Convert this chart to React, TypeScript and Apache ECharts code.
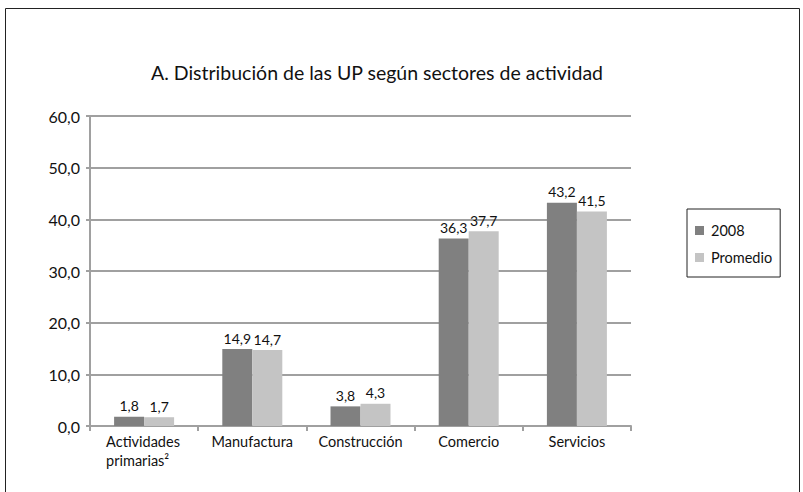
import React, { useEffect, useRef } from "react";
import * as echarts from "echarts";

const categories = ["Actividades\nprimarias²", "Manufactura", "Construcción", "Comercio", "Servicios"];
const series2008 = [1.8, 14.9, 3.8, 36.3, 43.2];
const seriesPromedio = [1.7, 14.7, 4.3, 37.7, 41.5];
const seriesNames = ["2008", "Promedio"];
const titleText = "A. Distribución de las UP según sectores de actividad";

const fmt = (v: number) => v.toFixed(1).replace(".", ",");
const FONT = "Lato";

export default function App() {
  const ref = useRef<HTMLDivElement>(null);
  useEffect(() => {
    document.body.style.margin = "0";
    const chart = echarts.init(ref.current!, null, { renderer: "svg" });
    const labelCfg = {
      show: true,
      position: "top" as const,
      formatter: (p: any) => fmt(p.value),
      fontFamily: FONT,
      fontSize: 14,
      color: "#111",
      distance: 4,
    };
    chart.setOption({
      animation: false,
      backgroundColor: "#fff",
      title: {
        text: titleText,
        left: 372,
        top: 57,
        textAlign: "center",
        textStyle: { fontFamily: FONT, fontSize: 19.5, fontWeight: "normal", color: "#111" },
      },
      legend: {
        orient: "vertical",
        left: 687,
        top: 209,
        padding: [14, 8, 12, 8],
        itemWidth: 9,
        itemHeight: 9,
        itemGap: 12,
        borderColor: "#222",
        borderWidth: 1,
        borderRadius: 0,
        icon: "rect",
        data: seriesNames,
        textStyle: { fontFamily: FONT, fontSize: 14.5, color: "#111", padding: [0, 0, 0, 2] },
      },
      grid: { left: 90, right: 172, top: 116, bottom: 66 },
      xAxis: {
        type: "category",
        data: categories,
        axisLine: { lineStyle: { color: "#a0a0a0", width: 2 } },
        axisTick: { show: true, length: 5, lineStyle: { color: "#a0a0a0", width: 2 } },
        axisLabel: {
          interval: 0,
          hideOverlap: false,
          fontFamily: FONT,
          fontSize: 14.5,
          color: "#111",
          margin: 6,
          lineHeight: 19,
          align: "center",
          formatter: (v: string) => {
            const lines = v.split("\n");
            if (lines.length === 1) return v;
            return lines.map((l) => "{a|" + l + "}").join("\n");
          },
          rich: {
            a: { width: 76, align: "left", fontFamily: FONT, fontSize: 14.5, color: "#111", lineHeight: 19 },
          },
        },
      },
      yAxis: {
        type: "value",
        min: 0,
        max: 60,
        interval: 10,
        axisLine: { show: true, lineStyle: { color: "#a0a0a0", width: 2 } },
        axisTick: { show: true, length: 4, lineStyle: { color: "#a0a0a0", width: 2 } },
        splitLine: { lineStyle: { color: "#a0a0a0", width: 2 } },
        axisLabel: {
          fontFamily: FONT,
          fontSize: 16,
          color: "#111",
          margin: 10,
          formatter: (v: number) => fmt(v),
        },
      },
      series: [
        {
          name: seriesNames[0],
          type: "bar",
          data: series2008,
          barWidth: 30,
          barGap: "0%",
          itemStyle: { color: "#808080" },
          label: labelCfg,
        },
        {
          name: seriesNames[1],
          type: "bar",
          data: seriesPromedio,
          barWidth: 30,
          barGap: "0%",
          itemStyle: { color: "#c4c4c4" },
          label: labelCfg,
        },
      ],
      graphic: [
        {
          type: "rect",
          shape: { x: 5.5, y: 8.5, width: 794, height: 520 },
          style: { fill: "none", stroke: "#222", lineWidth: 1 },
          silent: true,
          z: 100,
        },
      ],
    });
    return () => chart.dispose();
  }, []);
  return <div ref={ref} style={{ position: "absolute", left: 0, top: 0, width: 803, height: 492 }} />;
}
